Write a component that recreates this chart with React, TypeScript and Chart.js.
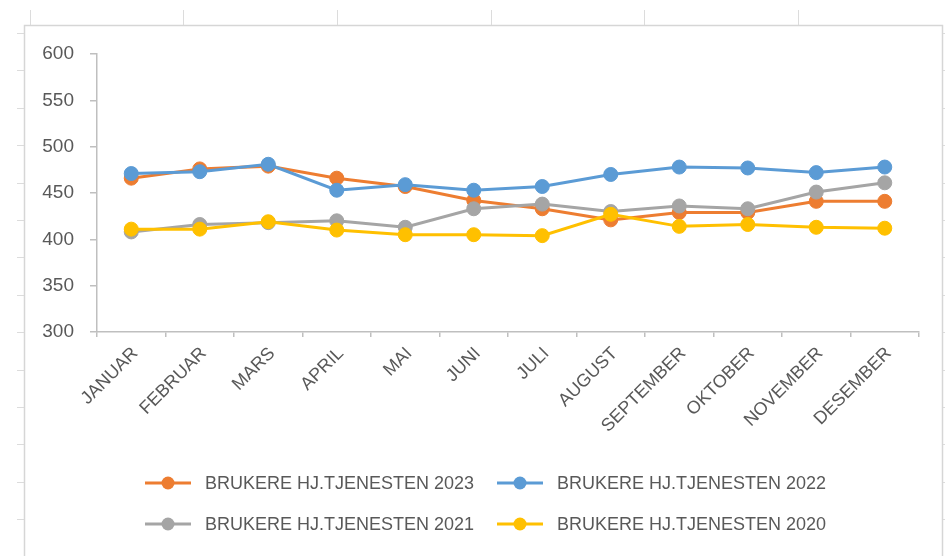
import { useEffect, useRef } from 'react';
import { Chart, registerables } from 'chart.js';

Chart.register(...registerables);

const months = ['JANUAR', 'FEBRUAR', 'MARS', 'APRIL', 'MAI', 'JUNI', 'JULI', 'AUGUST', 'SEPTEMBER', 'OKTOBER', 'NOVEMBER', 'DESEMBER'];
const seriesLabels = ['BRUKERE HJ.TJENESTEN 2023', 'BRUKERE HJ.TJENESTEN 2022', 'BRUKERE HJ.TJENESTEN 2021', 'BRUKERE HJ.TJENESTEN 2020'];
const values2023 = [466, 476, 479, 466, 457, 442, 433, 421, 429, 429, 441, 441];
const values2022 = [471, 473, 481, 453, 459, 453, 457, 470, 478, 477, 472, 478];
const values2021 = [408, 416, 418, 420, 413, 433, 438, 430, 436, 433, 451, 461];
const values2020 = [411, 411, 419, 410, 405, 405, 404, 427, 414, 416, 413, 412];
const yMin = 300;
const yMax = 600;
const yStep = 50;

const colors = ['#ED7D31', '#5B9BD5', '#A5A5A5', '#FFC000'];
const FONT = '"Liberation Sans", Arial, sans-serif';
const TEXT = '#595959';
const AXIS = '#bfbfbf';

const sheetPlugin = {
  id: 'sheet',
  beforeDraw(chart: any) {
    const ctx = chart.ctx;
    const w = chart.width;
    const h = chart.height;
    ctx.save();
    ctx.fillStyle = '#ffffff';
    ctx.fillRect(0, 0, w, h);
    ctx.strokeStyle = '#dcdcdc';
    ctx.lineWidth = 1;
    ctx.beginPath();
    for (const x of [30, 183, 337, 491, 644, 798]) {
      ctx.moveTo(x + 0.5, 10);
      ctx.lineTo(x + 0.5, 25);
    }
    for (let y = 33; y < h; y += 37.4) {
      const yy = Math.round(y) + 0.5;
      ctx.moveTo(17, yy);
      ctx.lineTo(24, yy);
      ctx.moveTo(943, yy);
      ctx.lineTo(w, yy);
    }
    ctx.stroke();
    ctx.strokeStyle = '#d6d6d6';
    ctx.lineWidth = 1.5;
    ctx.strokeRect(24.5, 25.5, 918, h + 10);
    ctx.restore();
  },
};

const legendPlugin = {
  id: 'customLegend',
  afterDraw(chart: any) {
    const ctx = chart.ctx;
    const spots = [
      { x: 145, y: 483 },
      { x: 497, y: 483 },
      { x: 145, y: 524 },
      { x: 497, y: 524 },
    ];
    ctx.save();
    chart.data.datasets.forEach((ds: any, i: number) => {
      const p = spots[i];
      ctx.strokeStyle = ds.borderColor;
      ctx.lineWidth = 3;
      ctx.beginPath();
      ctx.moveTo(p.x, p.y);
      ctx.lineTo(p.x + 46, p.y);
      ctx.stroke();
      ctx.fillStyle = ds.borderColor;
      ctx.beginPath();
      ctx.arc(p.x + 23, p.y, 6.5, 0, Math.PI * 2);
      ctx.fill();
      ctx.fillStyle = TEXT;
      ctx.font = `18px ${FONT}`;
      ctx.textBaseline = 'middle';
      ctx.textAlign = 'left';
      ctx.fillText(ds.label, p.x + 60, p.y + 1);
    });
    ctx.restore();
  },
};

export default function App() {
  const ref = useRef<HTMLCanvasElement>(null);

  useEffect(() => {
    const canvas = ref.current;
    if (!canvas) return;
    const seriesValues = [values2023, values2022, values2021, values2020];
    const chart = new Chart(canvas, {
      type: 'line',
      data: {
        labels: months,
        datasets: seriesValues.map((vals, i) => ({
          label: seriesLabels[i],
          data: vals,
          borderColor: colors[i],
          backgroundColor: colors[i],
          pointBackgroundColor: colors[i],
          pointBorderColor: colors[i],
          pointBorderWidth: 1,
          pointRadius: 7,
          borderWidth: 3,
          tension: 0,
          fill: false,
          order: 3 - i,
        })),
      },
      options: {
        responsive: false,
        animation: false,
        devicePixelRatio: 1,
        layout: { padding: { left: 0, right: 26, top: 54, bottom: 0 } },
        plugins: {
          legend: { display: false },
          tooltip: { enabled: false },
        },
        scales: {
          x: {
            type: 'category',
            offset: true,
            grid: { offset: true, drawOnChartArea: false, drawTicks: true, tickLength: 5, color: AXIS, lineWidth: 1.5 },
            border: { color: AXIS, width: 1.5 },
            ticks: {
              autoSkip: false,
              minRotation: 45,
              maxRotation: 45,
              padding: 6,
              labelOffset: 4,
              color: TEXT,
              font: { family: FONT, size: 18 },
            },
            afterFit: (s: any) => {
              s.height = 224;
            },
          },
          y: {
            min: yMin,
            max: yMax,
            grid: { drawOnChartArea: false, drawTicks: true, tickLength: 7, color: AXIS, lineWidth: 1.5 },
            border: { color: AXIS, width: 1.5 },
            ticks: {
              stepSize: yStep,
              padding: 16,
              color: TEXT,
              font: { family: FONT, size: 19 },
            },
            afterFit: (s: any) => {
              s.width = 97;
            },
          },
        },
      },
      plugins: [sheetPlugin, legendPlugin],
    });
    return () => chart.destroy();
  }, []);

  return (
    <div style={{ position: 'absolute', left: 0, top: 0, width: 945, height: 556 }}>
      <canvas ref={ref} width={945} height={556} style={{ display: 'block', width: 945, height: 556 }} />
    </div>
  );
}
